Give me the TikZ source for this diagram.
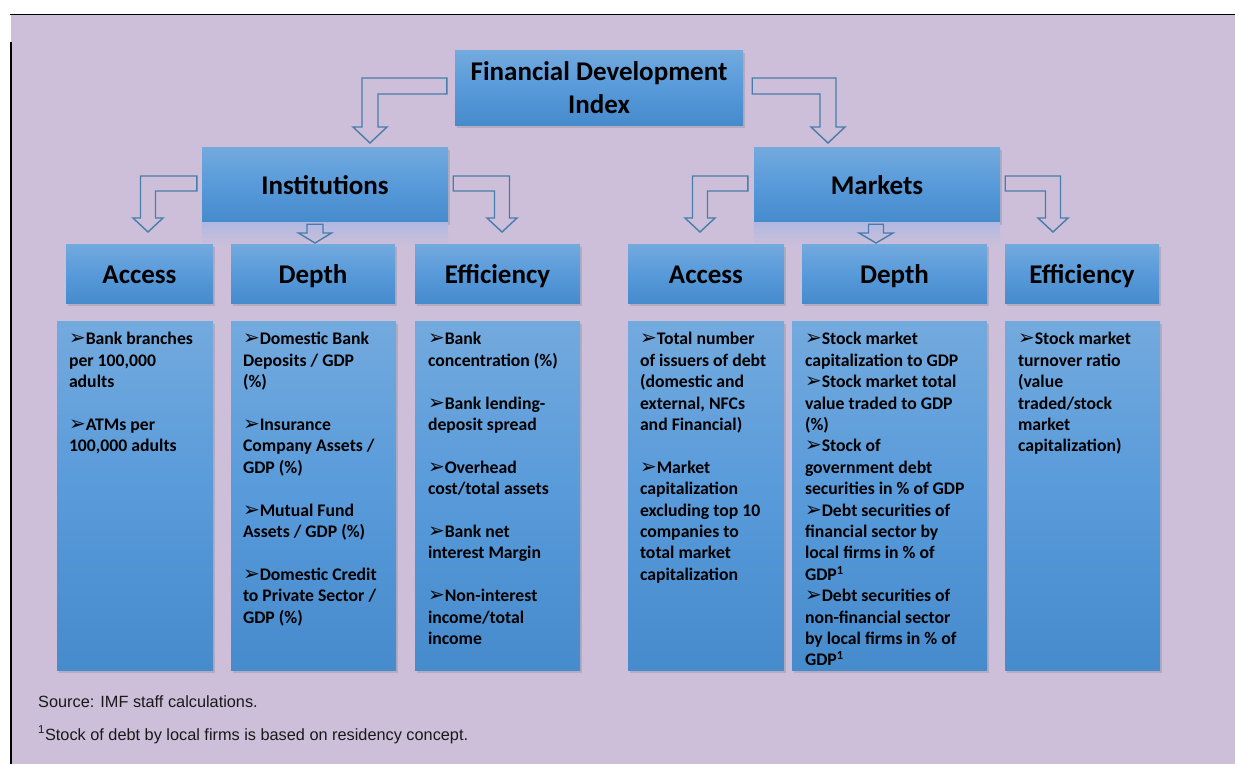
\documentclass[tikz,border=0pt]{standalone}
\usepackage{fontspec}
\setmainfont{Carlito}
\newfontfamily\notefont{Liberation Sans}
\newfontfamily\bulletfont{DejaVu Sans}
\usetikzlibrary{calc,shadows}

\definecolor{lavender}{RGB}{205,191,217}
\definecolor{boxtop}{RGB}{115,170,222}
\definecolor{boxmid}{RGB}{88,154,218}
\definecolor{boxbot}{RGB}{70,139,204}
\definecolor{arrowline}{RGB}{72,124,170}
\definecolor{glow}{RGB}{176,184,226}

\newcommand{\itm}{{\bulletfont\fontsize{20}{20}\selectfont ➢}}

% outline arrow: bar out of a box, bent down to a tip
\newcommand{\bentarrow}[6]{%
\draw[blockarrow] let \p1=#1, \p2=#2 in
(\x1,\y1+#4) -- (\x2+#3*#4,\y1+#4) -- (\x2+#3*#4,\y2+#6) -- (\x2+#3*#5,\y2+#6) -- (\x2,\y2)
-- (\x2-#3*#5,\y2+#6) -- (\x2-#3*#4,\y2+#6) -- (\x2-#3*#4,\y1-#4) -- (\x1,\y1-#4) -- cycle;}
\newcommand{\stemarrow}[5]{%
\draw[blockarrow] let \p1=#1, \p2=#2 in
(\x2-#3,\y1) -- (\x2-#3,\y2+#5) -- (\x2-#4,\y2+#5) -- (\x2,\y2)
-- (\x2+#4,\y2+#5) -- (\x2+#3,\y2+#5) -- (\x2+#3,\y1) -- cycle;}

\tikzset{
tile/.style={top color=boxtop, bottom color=boxbot, middle color=boxmid, inner sep=0pt,
  drop shadow={opacity=0.3, shadow xshift=1.5pt, shadow yshift=-2.5pt}},
hdr/.style={tile, font=\bfseries\fontsize{27}{32.8}\selectfont, align=center},
onehdr/.style={hdr, text height=19pt, text depth=0pt},
subhdr/.style={onehdr, minimum height=59pt},
itembox/.style={tile, minimum height=349pt},
itemtext/.style={anchor=north west, inner sep=0pt, align=left, font=\bfseries\fontsize{17.7}{21.4}\selectfont},
blockarrow/.style={draw=arrowline, line width=1.4pt, line join=miter},
note/.style={anchor=base west, inner sep=0pt, text=black!90, font=\notefont\fontsize{16.3}{19}\selectfont}
}

\begin{document}
\begin{tikzpicture}[x=1pt, y=-1pt]
\useasboundingbox (0,0) rectangle (1235,764);
\fill[lavender] (11,15) rectangle (1235,764);
\draw[line width=1.3pt] (10,14.5) -- (1235,14.5);
\draw[line width=1.8pt] (11,42) -- (11,764);

\node[hdr, minimum width=288pt, minimum height=75pt] (fdi) at (599,87.5) {Financial Development\\Index};
\node[onehdr, minimum width=246pt, minimum height=75pt] (inst) at (325,184.5) {Institutions};
\node[onehdr, minimum width=246pt, minimum height=75pt] (mkt) at (877,184.5) {Markets};
\fill[top color=glow, bottom color=lavender] (inst.south west) rectangle ($(inst.south east)+(0,24)$);
\fill[top color=glow, bottom color=lavender] (mkt.south west) rectangle ($(mkt.south east)+(0,24)$);

\node[subhdr, minimum width=147pt] (instacc) at (139.5,273.5) {Access};
\node[subhdr, minimum width=164pt] (instdep) at (313,273.5) {Depth};
\node[subhdr, minimum width=165pt] (insteff) at (497.5,273.5) {Efficiency};
\node[subhdr, minimum width=156pt] (mktacc) at (706,273.5) {Access};
\node[subhdr, minimum width=185pt] (mktdep) at (894.5,273.5) {Depth};
\node[subhdr, minimum width=154pt] (mkteff) at (1082,273.5) {Efficiency};

\node[itembox, minimum width=156pt] (instaccbox) at (135,495.5) {};
\node[itembox, minimum width=165pt] (instdepbox) at (313.5,495.5) {};
\node[itembox, minimum width=165pt] (insteffbox) at (497.5,495.5) {};
\node[itembox, minimum width=156pt] (mktaccbox) at (706,495.5) {};
\node[itembox, minimum width=195pt] (mktdepbox) at (889.5,495.5) {};
\node[itembox, minimum width=155pt] (mkteffbox) at (1082.5,495.5) {};

\node[itemtext] (instacctxt) at ($(instaccbox.north west)+(12,9)$)
{\strut\itm Bank branches\\per 100,000\\adults\\[21.4pt]\itm ATMs per\\100,000 adults};
\node[itemtext] (instdeptxt) at ($(instdepbox.north west)+(12,9)$)
{\strut\itm Domestic Bank\\Deposits / GDP\\(\%)\\[21.4pt]\itm Insurance\\Company Assets /\\GDP (\%)\\[21.4pt]%
\itm Mutual Fund\\Assets / GDP (\%)\\[21.4pt]\itm Domestic Credit\\to Private Sector /\\GDP (\%)};
\node[itemtext] (insteffttxt) at ($(insteffbox.north west)+(13,9)$)
{\strut\itm Bank\\concentration (\%)\\[21.4pt]\itm Bank lending-\\deposit spread\\[21.4pt]%
\itm Overhead\\cost/total assets\\[21.4pt]\itm Bank net\\interest Margin\\[21.4pt]%
\itm Non-interest\\income/total\\income};
\node[itemtext] (mktacctxt) at ($(mktaccbox.north west)+(12,9)$)
{\strut\itm Total number\\of issuers of debt\\(domestic and\\external, NFCs\\and Financial)\\[21.4pt]%
\itm Market\\capitalization\\excluding top 10\\companies to\\total market\\capitalization};
\node[itemtext] (mktdeptxt) at ($(mktdepbox.north west)+(13,9)$)
{\strut\itm Stock market\\capitalization to GDP\\\itm Stock market total\\value traded to GDP\\(\%)\\%
\itm Stock of\\government debt\\securities in \% of GDP\\\itm Debt securities of\\financial sector by\\%
local firms in \% of\\GDP\textsuperscript{1}\\\itm Debt securities of\\non-financial sector\\by local firms in \% of\\GDP\textsuperscript{1}};
\node[itemtext] (mkteffttxt) at ($(mkteffbox.north west)+(13,9)$)
{\strut\itm Stock market\\turnover ratio\\(value\\traded/stock\\market\\capitalization)};

\coordinate (fdiLtip) at (370,143);
\coordinate (fdiRtip) at (828,143);
\coordinate (instLtip) at (148,232);
\coordinate (instRtip) at (502,232);
\coordinate (instDtip) at (315,243);
\coordinate (mktLtip) at (700,232);
\coordinate (mktRtip) at (1053,232);
\coordinate (mktDtip) at (876,243);

\bentarrow{($(fdi.west)+(-8,-1.5)$)}{(fdiLtip)}{-1}{8pt}{17pt}{16pt}
\bentarrow{($(fdi.east)+(9,-1.5)$)}{(fdiRtip)}{1}{8pt}{17pt}{16pt}
\bentarrow{($(inst.west)+(-5,-1)$)}{(instLtip)}{-1}{7.5pt}{15pt}{14pt}
\bentarrow{($(inst.east)+(5,-1)$)}{(instRtip)}{1}{7.5pt}{15pt}{14pt}
\bentarrow{($(mkt.west)+(-6,-1)$)}{(mktLtip)}{-1}{7.5pt}{15pt}{14pt}
\bentarrow{($(mkt.east)+(5,-1)$)}{(mktRtip)}{1}{7.5pt}{15pt}{14pt}
\stemarrow{($(inst.south)+(0,2)$)}{(instDtip)}{8pt}{16.5pt}{10pt}
\stemarrow{($(mkt.south)+(0,2)$)}{(mktDtip)}{7.5pt}{17pt}{10pt}

\node[note] (src) at (38,707) {Source: IMF staff calculations.};
\node[note] (fn) at (38,740) {\textsuperscript{1}Stock of debt by local firms is based on residency concept.};
\end{tikzpicture}
\end{document}
